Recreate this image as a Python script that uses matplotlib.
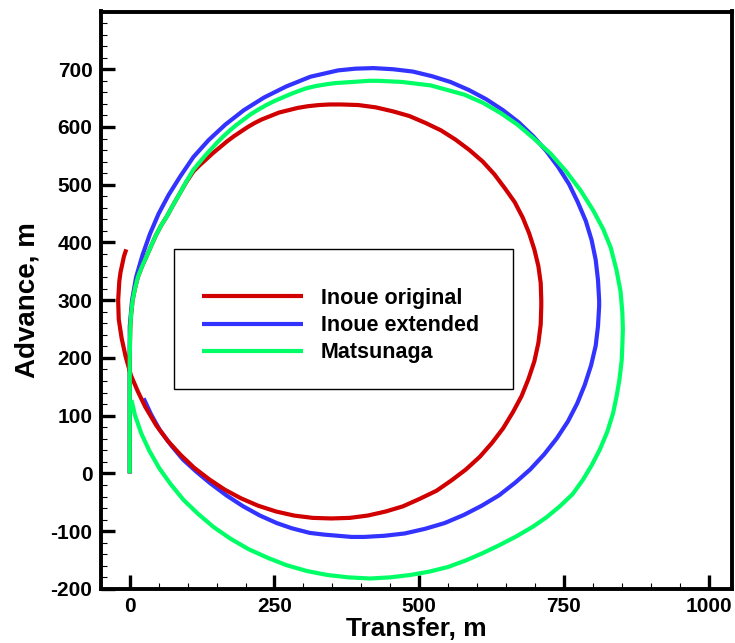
import matplotlib
matplotlib.use("Agg")
import matplotlib.pyplot as plt
from matplotlib.patches import Rectangle
from matplotlib.ticker import MultipleLocator

plt.rcParams['font.family'] = ['Liberation Sans', 'DejaVu Sans']
plt.rcParams['font.weight'] = 'bold'
plt.rcParams['axes.unicode_minus'] = False

# turning circle tracks (transfer x, advance y, metres)
inoue_orig_x = [0, 0, 0, 0, 0, 0.5, 1, 2.5, 5, 9, 14, 21, 29, 37, 45, 54, 64, 75, 87, 98, 110,
                121, 132, 144, 156, 168, 180, 192, 204, 216, 228, 243, 258, 274, 290, 308, 327, 346,
                365, 395, 425, 455, 483, 511, 538, 563, 587, 610, 630, 648, 665, 679, 690, 699, 706, 710, 711,
                711, 710, 706, 699, 689, 677, 662, 645, 626, 605, 581, 556, 530, 501, 472, 442, 411, 380, 348,
                316, 284, 253, 222, 192, 164, 137, 111, 88, 66, 46, 27, 14, 2, -7, -14, -19, -20,
                -19, -18, -16, -13, -10, -6]
inoue_orig_y = [0, 50, 100, 150, 200, 230, 254, 277, 300, 320, 340, 358, 376, 394, 412, 429, 445, 465, 486, 505, 523,
                534, 544, 555, 565, 575, 584, 592, 600, 607, 613, 619, 625, 629, 633, 636, 638, 639,
                639, 638, 634, 627, 619, 607, 594, 578, 560, 540, 518, 494, 470, 443, 416, 388, 359, 330, 300,
                290, 258, 226, 194, 164, 134, 106, 78, 53, 29, 7, -12, -30, -44, -57, -66, -73, -77, -78,
                -77, -73, -66, -56, -43, -28, -10, 10, 32, 56, 83, 115, 142, 170, 202, 234, 267, 300,
                317, 333, 348, 362, 376, 388]

inoue_ext_x = [0, 0, 0, 0, 0, 0, 4, 11, 22, 35, 50, 67, 87, 110, 136, 165, 197, 232, 270, 312, 360, 390,
               421, 455, 489, 522, 554, 586, 616, 645, 672, 697, 720, 740, 759, 774, 788, 798, 805, 809, 811,
               811, 809, 805, 797, 786, 773, 757, 738, 716, 692, 666, 638, 608, 577, 544, 510, 475, 440, 405,
               383, 360, 336, 311, 280, 254, 225, 196, 167, 139, 115, 92, 72, 52, 37, 24]
inoue_ext_y = [0, 50, 100, 150, 200, 254, 300, 340, 378, 415, 450, 482, 514, 548, 577, 604, 629, 651, 670, 687, 698, 701,
               702, 700, 696, 688, 678, 664, 648, 629, 608, 584, 558, 531, 501, 470, 437, 404, 370, 335, 300,
               290, 255, 221, 187, 153, 121, 90, 61, 33, 7, -16, -38, -56, -72, -86, -96, -104, -108, -110,
               -110, -108, -106, -103, -95, -86, -73, -57, -38, -17, 3, 24, 48, 75, 102, 130]

matsunaga_x = [0, 0, 0, 0, 0, 0.5, 1, 2.5, 5, 9, 14, 21, 29, 37, 45, 54, 64, 75, 87, 98, 110,
               120, 130, 140, 150, 161, 173, 185, 197, 209, 222, 236, 250, 264, 278, 291, 305, 322, 340, 355,
               370, 385, 400, 414, 428, 470, 520, 578, 610, 641, 670, 697, 727, 754, 779, 801, 818, 831, 841,
               848, 851, 852, 851, 850, 846, 841, 835, 825, 812, 798, 783, 765, 743, 720, 697, 668, 639, 610,
               580, 550, 518, 484, 450, 415, 378, 342, 306, 271, 238, 205, 174, 145, 118, 93, 71, 51, 34,
               20, 9, 3]
matsunaga_y = [0, 50, 100, 150, 200, 230, 254, 277, 300, 320, 340, 358, 376, 394, 412, 429, 445, 465, 486, 506, 526,
               538, 550, 561, 572, 583, 594, 604, 613, 622, 630, 638, 645, 651, 657, 662, 667, 671, 674, 676,
               677, 678, 679, 680, 680, 678, 672, 656, 642, 624, 604, 581, 554, 523, 490, 455, 423, 391, 352,
               315, 280, 250, 220, 196, 162, 133, 104, 72, 41, 14, -11, -36, -57, -76, -92, -109, -124, -138,
               -151, -162, -170, -176, -180, -182, -180, -176, -169, -159, -146, -131, -113, -93, -70, -46, -19, 9, 39,
               69, 101, 127]

labels = ['Inoue original', 'Inoue extended', 'Matsunaga']
colors = ['#d00000', '#3333ff', '#00ff66']

fig = plt.figure(figsize=(7.35, 6.43), dpi=100)
ax = fig.add_axes([100.8 / 735, (643 - 588.9) / 643, 630.9 / 735, 577.4 / 643])

style = dict(lw=3, solid_joinstyle='round', solid_capstyle='butt')
l_ext, = ax.plot(inoue_ext_x, inoue_ext_y, color=colors[1], label=labels[1], **style)
l_orig, = ax.plot(inoue_orig_x, inoue_orig_y, color=colors[0], label=labels[0], **style)
l_mat, = ax.plot(matsunaga_x, matsunaga_y, color=colors[2], label=labels[2], **style)

ax.set_xlim(-50, 1040)
ax.set_ylim(-200, 800)
ax.set_xticks([0, 250, 500, 750, 1000])
ax.set_yticks(range(-200, 701, 100))
ax.xaxis.set_minor_locator(MultipleLocator(50))
ax.yaxis.set_minor_locator(MultipleLocator(20))
ax.tick_params(which='major', direction='in', length=10, width=2.4, labelsize=15, pad=6)
ax.tick_params(which='minor', direction='in', length=4.5, width=0.8)
for s in ax.spines.values():
    s.set_linewidth(2.8)

ax.set_xlabel('Transfer, m', fontsize=19, fontweight='bold', labelpad=0.5)
ax.set_ylabel('Advance, m', fontsize=20, fontweight='bold', labelpad=7.5)

# legend frame drawn separately (top/bottom padding differ in the original)
ax.add_patch(Rectangle((0.1165, 0.346), 0.5365, 0.242, transform=ax.transAxes,
                       facecolor='white', edgecolor='black', lw=1.0, zorder=4))
leg = ax.legend(handles=[l_orig, l_ext, l_mat], loc='upper left',
                bbox_to_anchor=(0.1609, 0.5213), fontsize=15.5, frameon=False,
                borderpad=0, borderaxespad=0,
                handlelength=4.7, handletextpad=0.8, labelspacing=0.29)
leg.set_zorder(5)

fig.savefig('out.png', dpi=100)
